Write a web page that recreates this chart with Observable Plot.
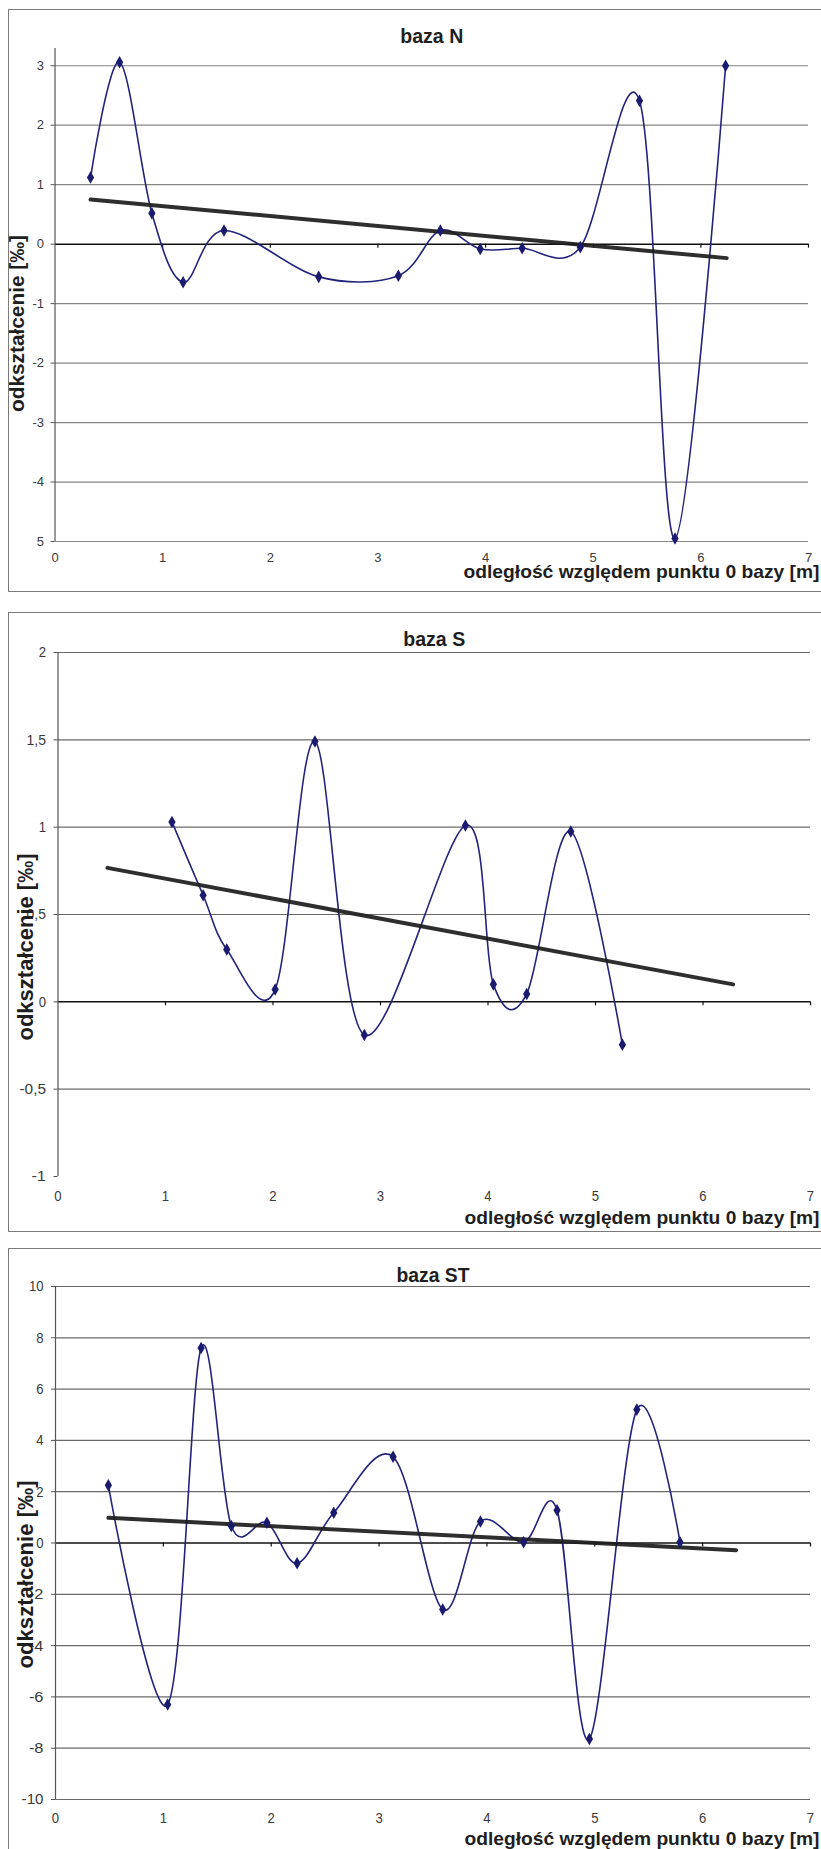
<!DOCTYPE html>
<html>
<head>
<meta charset="utf-8">
<script src="https://cdn.jsdelivr.net/npm/d3@7"></script>
<script src="https://cdn.jsdelivr.net/npm/@observablehq/plot@0.6"></script>
<style>
  html, body { margin: 0; padding: 0; background: #fff; }
  #page { position: relative; width: 821px; height: 1849px; overflow: hidden; background: #fff; }
  .frame { position: absolute; left: 8px; width: 900px; box-sizing: border-box; border: 1.5px solid #7a7a7a; }
  .holder { position: absolute; left: 0; }
</style>
</head>
<body>
<div id="page"></div>
<script>
// ---- shared ----
const xTicks = [0, 1, 2, 3, 4, 5, 6, 7];
const yLabelText = "odkształcenie [‰]";
const xLabelText = "odległość względem punktu 0 bazy [m]";

// ---- baza N ----
const nTitle = "baza N";
const nX = [0.33, 0.60, 0.90, 1.19, 1.57, 2.45, 3.19, 3.58, 3.95, 4.34, 4.88, 5.43, 5.76, 6.23];
const nY = [1.12, 3.06, 0.52, -0.64, 0.23, -0.55, -0.53, 0.23, -0.08, -0.07, -0.05, 2.41, -4.95, 3.00];
const nTrendX = [0.33, 6.24];
const nTrendY = [0.75, -0.235];
const nYTicks = [3, 2, 1, 0, -1, -2, -3, -4, -5];
const nYLabels = ["3", "2", "1", "0", "-1", "-2", "-3", "-4", "5"];
const nGrid = [3, 2, 1, -1, -2, -3, -4, -5];

// ---- baza S ----
const sTitle = "baza S";
const sX = [1.06, 1.35, 1.57, 2.02, 2.39, 2.85, 3.79, 4.05, 4.36, 4.77, 5.25];
const sY = [1.03, 0.61, 0.30, 0.07, 1.49, -0.19, 1.01, 0.10, 0.045, 0.975, -0.245];
const sTrendX = [0.46, 6.28];
const sTrendY = [0.767, 0.10];
const sYTicks = [2, 1.5, 1, 0.5, 0, -0.5, -1];
const sYLabels = ["2", "1,5", "1", "0,5", "0", "-0,5", "-1"];
const sGrid = [2, 1.5, 1, 0.5, -0.5];

// ---- baza ST ----
const stTitle = "baza ST";
const stX = [0.49, 1.04, 1.35, 1.63, 1.96, 2.24, 2.58, 3.13, 3.59, 3.94, 4.34, 4.65, 4.95, 5.39, 5.79];
const stY = [2.25, -6.3, 7.6, 0.66, 0.79, -0.79, 1.18, 3.36, -2.59, 0.84, 0.03, 1.28, -7.64, 5.2, 0.03];
const stTrendX = [0.49, 6.31];
const stTrendY = [0.98, -0.28];
const stYTicks = [10, 8, 6, 4, 2, 0, -2, -4, -6, -8, -10];
const stYLabels = ["10", "8", "6", "4", "2", "0", "-2", "-4", "-6", "-8", "-10"];
const stGrid = [10, 8, 6, 4, 2, -2, -4, -6, -8, -10];

const page = document.getElementById("page");
const regular = "'Liberation Sans', Arial, sans-serif";

function panel(c) {
  const pts = c.xs.map((x, i) => ({x, y: c.ys[i]}));
  const trend = c.tx.map((x, i) => ({x, y: c.ty[i]}));
  const frame = document.createElement("div");
  frame.className = "frame";
  frame.style.top = c.top + "px";
  frame.style.height = c.frameH + "px";
  page.appendChild(frame);

  const svg = Plot.plot({
    width: 821,
    height: c.height,
    marginTop: c.mt, marginBottom: c.mb, marginLeft: c.ml, marginRight: c.mr,
    x: {domain: [0, 7]},
    y: {domain: c.yDomain},
    style: {fontFamily: regular, background: "transparent", overflow: "visible"},
    marks: [
      Plot.ruleY(c.grid, {x1: 0, x2: 7, stroke: c.gridColor, strokeWidth: 1.2}),
      Plot.ruleY([0], {x1: 0, x2: 7, stroke: "#111", strokeWidth: 1.5}),
      Plot.ruleX(xTicks.slice(1), {y1: 0, y2: 0, insetBottom: -4, stroke: "#111", strokeWidth: 1.2}),
      Plot.ruleX([0], {stroke: "#555", strokeWidth: 1.2}),
      Plot.axisY({ticks: c.yTicks, tickFormat: (d) => c.yLabels[c.yTicks.indexOf(d)], tickSize: 4,
        tickPadding: c.yPad, stroke: "#555", fill: "#3a3a3a", fontSize: c.tickFs, label: null}),
      Plot.axisX({ticks: xTicks, tickFormat: (d) => String(d), tickSize: 0, tickPadding: c.xPad, fill: "#3a3a3a",
        fontSize: c.tickFs, label: null}),
      Plot.line(pts, {x: "x", y: "y", curve: "cardinal", stroke: "#23237d", strokeWidth: 1.6}),
      Plot.line(trend, {x: "x", y: "y", stroke: "#1c1c1c", strokeWidth: 4, strokeOpacity: 0.92}),
      Plot.dot(pts, {x: "x", y: "y", symbol: "diamond", r: 3.8, fill: "#1a1a6e"}),
      Plot.text([c.title], {text: (d) => d, frameAnchor: "top", dy: c.titleDy, fontWeight: "bold",
        fontSize: 21, fill: "#1e1e1e", lineAnchor: "middle"}),
      Plot.text([yLabelText], {text: (d) => d, frameAnchor: "left", rotate: -90, dx: c.ylDx, dy: c.ylDy,
        fontWeight: "bold", fontSize: c.ylFs, fill: "#1e1e1e", lineAnchor: "middle", textAnchor: "middle"}),
      Plot.text([xLabelText], {text: (d) => d, frameAnchor: "bottom-left", textAnchor: "start", dx: c.xtDx, dy: c.xtDy,
        fontWeight: "bold", fontSize: c.xtFs, fill: "#1e1e1e", lineAnchor: "middle"})
    ]
  });

  // match the measured text lengths of the scanned original
  const fit = {};
  fit[c.title] = c.titleLen;
  fit[yLabelText] = c.ylLen;
  fit[xLabelText] = c.xtLen;
  svg.querySelectorAll("text").forEach((t) => {
    const s = t.textContent;
    if (fit[s]) {
      t.setAttribute("textLength", fit[s]);
      t.setAttribute("lengthAdjust", "spacingAndGlyphs");
    }
  });
  if (c.narrowTicks) {
    svg.querySelectorAll("g[aria-label='y-axis tick label'] text, g[aria-label='x-axis tick label'] text").forEach((t) => {
      const n = t.textContent.length;
      t.setAttribute("textLength", (c.tickFs * 0.47 * n + (t.textContent.includes(",") ? -2.5 : 0)).toFixed(1));
      t.setAttribute("lengthAdjust", "spacingAndGlyphs");
    });
  }
  const holder = document.createElement("div");
  holder.className = "holder";
  holder.style.top = c.top + "px";
  holder.appendChild(svg);
  page.appendChild(holder);
}

panel({
  top: 9, frameH: 583, height: 583, mt: 39, mb: 51, ml: 54.5, mr: 13,
  yDomain: [-5, 3.29], yTicks: nYTicks, yLabels: nYLabels, grid: nGrid, gridColor: "#858585",
  xs: nX, ys: nY, tx: nTrendX, ty: nTrendY, title: nTitle, titleDy: -12, titleLen: 63,
  tickFs: 13, yPad: 7, xPad: 11, narrowTicks: false,
  ylDx: -38, ylDy: 28.5, ylFs: 21, ylLen: 177, xtDx: 408.5, xtDy: 31, xtFs: 18.5, xtLen: 356
});

panel({
  top: 612, frameH: 620, height: 620, mt: 40, mb: 56, ml: 57.5, mr: 11,
  yDomain: [-1, 2], yTicks: sYTicks, yLabels: sYLabels, grid: sGrid, gridColor: "#6a6a6a",
  xs: sX, ys: sY, tx: sTrendX, ty: sTrendY, title: sTitle, titleDy: -13, titleLen: 62,
  tickFs: 15.5, yPad: 8, xPad: 13, narrowTicks: true,
  ylDx: -32, ylDy: 32.5, ylFs: 22, ylLen: 187, xtDx: 406.5, xtDy: 41, xtFs: 19, xtLen: 355
});

panel({
  top: 1248, frameH: 620, height: 601, mt: 38, mb: 50, ml: 55, mr: 11,
  yDomain: [-10, 10], yTicks: stYTicks, yLabels: stYLabels, grid: stGrid, gridColor: "#6a6a6a",
  xs: stX, ys: stY, tx: stTrendX, ty: stTrendY, title: stTitle, titleDy: -11, titleLen: 73,
  tickFs: 15.5, yPad: 8, xPad: 12, narrowTicks: true,
  ylDx: -30, ylDy: 31.5, ylFs: 22, ylLen: 188, xtDx: 409, xtDy: 39, xtFs: 19, xtLen: 355
});
</script>
</body>
</html>
